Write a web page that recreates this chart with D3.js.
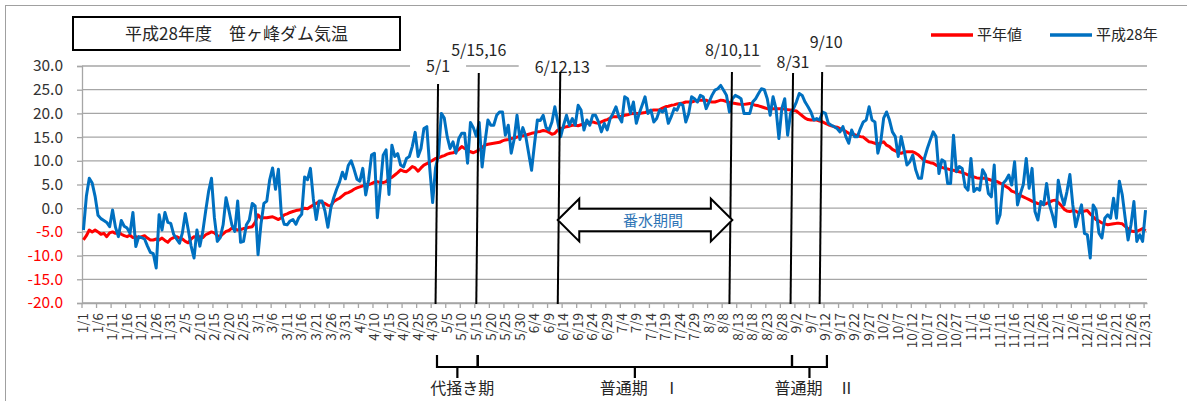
<!DOCTYPE html>
<html>
<head>
<meta charset="utf-8">
<script src="https://cdn.jsdelivr.net/npm/d3@7"></script>
<style>
body { margin: 0; background: #fff; }
svg { display: block; font-family: "Noto Sans CJK JP", "Noto Sans", sans-serif; }
</style>
</head>
<body>
<svg width="1187" height="401"></svg>
<script>
// 2016 is a leap year: 366 daily categories
var monthDays = [31, 29, 31, 30, 31, 30, 31, 31, 30, 31, 30, 31];

// 平年値 (normal), daily
var normalTemp = [
  -6.7, -5.8, -4.6, -5.0, -4.6, -5.0, -5.5, -5.3, -6.0, -5.2,
  -5.0, -5.3, -5.0, -5.5, -5.8, -6.0, -5.7, -6.2, -6.0, -6.2,
  -6.0, -5.8, -6.3, -6.7, -6.7, -6.5, -6.7, -6.3, -6.8, -7.2,
  -6.5, -6.2, -6.0, -6.3, -6.5, -7.0, -7.3, -6.5, -6.0, -6.2,
  -6.0, -6.2, -5.6, -5.3, -5.0, -5.2, -5.8, -6.0, -5.4, -4.9,
  -4.7, -4.2, -4.4, -4.6, -4.5, -4.3, -4.2, -4.0, -3.9, -3.0,
  -1.4, -2.1, -2.0, -2.0, -1.9, -1.8, -2.1, -2.4, -2.0, -1.4,
  -1.2, -0.9, -0.7, -0.5, -0.4, -0.2, 0.0, -0.1, 0.3, 0.7,
  1.0, 1.4, 1.2, 1.0, 0.6, 0.5, 1.4, 1.8, 2.1, 2.6,
  3.1, 3.3, 3.6, 4.0, 4.3, 4.5, 4.7, 5.0, 5.0, 5.2,
  5.5, 5.6, 5.4, 5.4, 5.6, 6.3, 6.5, 7.0, 7.5, 8.1,
  7.8, 7.7, 8.2, 8.8, 8.5, 7.8, 8.5, 9.1, 9.4, 9.8,
  10.1, 10.5, 10.6, 10.9, 11.1, 11.4, 11.6, 11.7, 11.9, 12.4,
  13.0, 12.6, 12.3, 11.9, 11.7, 12.0, 12.3, 12.8, 13.3, 13.5,
  13.6, 13.7, 13.8, 13.9, 14.2, 14.4, 14.5, 14.7, 14.8, 15.0,
  15.1, 15.3, 15.4, 15.6, 15.8, 15.9, 16.1, 16.2, 16.4, 16.3,
  16.0, 15.6, 15.8, 16.5, 16.8, 17.0, 17.2, 17.3, 17.5, 17.5,
  17.4, 17.6, 17.8, 17.9, 18.1, 18.2, 18.0, 17.9, 18.2, 18.5,
  18.7, 19.0, 19.3, 19.3, 19.3, 19.4, 19.6, 19.7, 19.9, 20.0,
  20.0, 20.0, 20.1, 20.2, 20.4, 20.6, 20.7, 20.7, 20.8, 21.1,
  21.4, 21.5, 21.7, 21.8, 22.0, 22.1, 22.2, 22.4, 22.4, 22.4,
  22.6, 22.7, 22.8, 22.8, 22.8, 22.5, 22.4, 22.4, 22.6, 22.8,
  22.7, 22.5, 22.3, 22.2, 22.1, 22.0, 21.9, 21.9, 22.0, 22.1,
  21.9, 21.7, 21.6, 21.4, 21.2, 21.0, 21.0, 21.0, 21.0, 21.0,
  21.0, 20.9, 20.8, 20.7, 20.6, 20.5, 20.0, 19.5, 19.0, 18.7,
  18.6, 18.6, 18.6, 18.4, 18.2, 17.9, 17.6, 17.4, 17.2, 17.1,
  16.8, 16.5, 16.2, 15.8, 15.6, 15.5, 15.3, 15.1, 15.0, 14.5,
  14.0, 13.9, 13.7, 13.5, 13.8, 14.0, 13.3, 13.0, 12.4, 12.1,
  11.7, 11.6, 11.8, 11.9, 11.9, 11.9, 11.6, 11.2, 10.6, 10.0,
  9.8, 9.6, 9.5, 9.1, 8.8, 8.6, 8.4, 8.3, 8.1, 8.0,
  7.8, 7.7, 7.5, 7.3, 7.0, 6.7, 6.6, 6.4, 6.3, 6.3,
  6.3, 6.1, 5.9, 5.8, 5.6, 5.3, 5.0, 4.6, 4.2, 3.6,
  3.4, 3.0, 2.7, 2.4, 2.1, 1.8, 1.5, 1.2, 1.0, 0.9,
  0.8, 1.0, 1.3, 1.6, 1.7, 1.2, 0.6, -0.2, -0.6, -0.7,
  -0.5, -0.6, -1.0, -0.8, -0.6, -0.5, -1.2, -1.8, -2.4, -2.7,
  -3.1, -3.3, -3.5, -3.4, -3.3, -3.2, -3.2, -3.3, -3.8, -4.3,
  -4.8, -4.9, -4.9, -4.6, -4.3, -4.8
];

// 平成28年 (2016), daily
var temp2016 = [
  -4.6, 2.5, 6.3, 5.3, 2.5, -1.5, -2.2, -2.6, -3.0, -3.9,
  -0.4, -4.0, -6.0, -2.6, -3.8, -4.2, -5.3, -0.9, -8.1, -6.0,
  -6.2, -6.5, -8.0, -9.3, -9.6, -12.6, -1.4, -4.6, -0.9, -3.0,
  -3.2, -5.5, -6.5, -7.4, -5.2, -1.1, -4.5, -8.0, -10.5, -4.6,
  -8.0, -5.0, -0.6, 3.5, 6.3, -2.0, -7.0, -6.2, -3.5, 2.2,
  -0.5, -3.5, -4.9, 1.5, -7.2, -7.0, -3.5, -2.5, 1.0, 0.5,
  -9.8, -3.4, 1.0, 1.5, 6.0, 8.5, 4.0, 8.2, -1.3, -3.4,
  -3.5, -2.7, -2.4, -3.4, -2.0, -1.3, 6.6, 6.0, 8.4, 2.0,
  -2.4, 1.5, 1.5, -0.6, -4.0, 0.0, 2.2, 4.0, 5.5, 7.6,
  6.2, 9.0, 10.0, 8.2, 6.1, 5.7, 8.4, 2.8, 6.0, 11.2,
  11.6, -2.0, 4.3, 11.2, 12.3, 2.9, 13.3, 10.9, 11.5, 9.1,
  8.7, 10.5, 10.9, 13.0, 16.0, 10.9, 12.6, 16.8, 17.2, 8.5,
  1.2, 8.5, 11.2, 20.0, 19.0, 15.1, 12.6, 14.0, 11.6, 14.7,
  15.8, 15.8, 9.5, 18.1, 17.0, 15.2, 18.1, 8.7, 14.0, 18.6,
  17.5, 17.5, 19.6, 20.3, 20.3, 15.4, 17.5, 11.6, 14.5, 19.6,
  14.5, 17.0, 15.2, 11.6, 8.0, 13.5, 18.6, 18.5, 19.6, 17.0,
  16.5, 18.2, 21.4, 18.2, 15.1, 17.5, 19.6, 17.5, 18.9, 17.5,
  21.7, 20.7, 16.5, 18.6, 17.5, 19.6, 19.6, 18.2, 16.1, 17.9,
  16.5, 18.9, 20.0, 21.4, 19.3, 18.2, 23.5, 23.1, 20.0, 22.4,
  17.9, 20.0, 21.7, 23.5, 20.0, 20.7, 18.2, 18.9, 20.7, 20.3,
  21.0, 17.9, 19.3, 21.0, 20.7, 22.1, 21.7, 18.2, 20.0, 23.5,
  23.1, 22.4, 23.8, 23.5, 21.0, 22.4, 23.8, 24.9, 25.2, 25.9,
  24.9, 23.8, 20.3, 23.1, 23.8, 23.5, 23.1, 20.0, 20.0, 20.0,
  22.4, 23.1, 24.2, 25.2, 25.0, 23.1, 19.6, 23.5, 21.0, 14.7,
  21.0, 23.1, 15.4, 20.0, 21.0, 22.4, 24.2, 23.8, 22.4, 21.4,
  20.3, 18.6, 18.9, 18.6, 20.3, 20.0, 17.9, 17.5, 17.2, 16.8,
  16.1, 17.2, 15.1, 13.7, 16.5, 15.1, 15.1, 16.8, 18.2, 18.6,
  21.4, 18.6, 18.2, 11.6, 14.0, 19.0, 20.3, 18.6, 16.1, 15.1,
  10.9, 15.1, 12.3, 9.1, 9.8, 11.2, 8.1, 6.3, 6.3, 10.5,
  12.6, 14.4, 16.1, 15.1, 7.3, 10.2, 9.8, 5.2, 5.2, 15.4,
  7.7, 8.8, 8.4, 4.5, 3.8, 10.5, 3.5, 4.2, 3.8, 8.1,
  7.0, 3.1, 2.4, 9.1, -3.2, -1.4, 5.2, 5.9, 7.0, 4.9,
  9.8, 0.7, 3.1, 5.0, 10.5, 4.2, 8.4, -0.7, -2.5, 1.4,
  0.7, 5.2, 0.7, -1.4, -3.9, 5.9, 2.8, 0.7, 3.5, 7.1,
  0.7, -3.9, -1.4, 0.7, -5.3, -5.6, -10.5, 0.7, -0.4, -5.3,
  -6.3, -2.1, -1.4, -2.1, 2.1, -2.1, 5.7, 2.8, -2.1, -6.7,
  -3.5, 1.4, -7.0, -5.6, -7.0, -0.4
];

var yTicks = [-20, -15, -10, -5, 0, 5, 10, 15, 20, 25, 30];
var seriesNames = ["平年値", "平成28年"];
var seriesColors = ["#ff0000", "#0070c0"];

// marked dates (vertical lines) and their labels
var eventDays = ["5/1", "5/15", "6/12", "8/10", "8/31", "9/10"];
var eventLabels = ["5/1", "5/15,16", "6/12,13", "8/10,11", "8/31", "9/10"];
var arrowRange = ["6/12", "8/11"];
var arrowLabel = "番水期間";
var periodLabels = ["代掻き期", "普通期　Ⅰ", "普通期　Ⅱ"];
var periodFrom = ["5/1", "5/15", "8/31"];
var periodTo = ["5/15", "8/31", "9/12"];

// category labels m/d
var days = [];
monthDays.forEach(function (n, m) {
    for (var d = 1; d <= n; d++) days.push((m + 1) + "/" + d);
});

var svg = d3.select("svg");

// outer chart frame
svg.append("rect")
    .attr("x", 5.5).attr("y", 5.5)
    .attr("width", 1200).attr("height", 420)
    .attr("fill", "#fff")
    .attr("stroke", "#a0a0a0").attr("stroke-width", 1);

var x = d3.scaleBand().domain(days).range([82, 1147]).padding(0);
var bw = x.bandwidth();
var cx = function (d) { return x(d) + bw / 2; };
var y = d3.scaleLinear().domain([-20, 30]).range([303, 66]);

// gridlines
svg.append("g").selectAll("line")
    .data(yTicks)
    .enter().append("line")
    .attr("x1", 82).attr("x2", 1147)
    .attr("y1", d => y(d)).attr("y2", d => y(d))
    .attr("stroke", "#a6a6a6").attr("stroke-width", 1.3);

// y axis
var yAxis = svg.append("g")
    .attr("transform", "translate(82,0)")
    .call(d3.axisLeft(y).tickValues(yTicks).tickSize(5).tickPadding(14)
        .tickFormat(d => d.toFixed(1)));
yAxis.select(".domain").attr("stroke", "#a6a6a6").attr("stroke-width", 1.3);
yAxis.selectAll(".tick line").attr("stroke", "#a6a6a6").attr("stroke-width", 1.3);
yAxis.selectAll(".tick text")
    .attr("font-size", 15.5)
    .attr("font-family", "'Noto Sans CJK JP', sans-serif")
    .attr("fill", d => d < 0 ? "#ff0000" : "#333");

// x axis
var xAxis = svg.append("g")
    .attr("transform", "translate(0,303)")
    .call(d3.axisBottom(x)
        .tickValues(days.filter((d, i) => i % 5 === 0))
        .tickSize(5).tickSizeOuter(0));
xAxis.select(".domain").attr("stroke", "#a6a6a6").attr("stroke-width", 1.3);
xAxis.selectAll(".tick line")
    .attr("x1", -bw / 2).attr("x2", -bw / 2)
    .attr("stroke", "#a6a6a6").attr("stroke-width", 1.3);
xAxis.selectAll(".tick text")
    .attr("transform", "rotate(-90)")
    .attr("text-anchor", "end")
    .attr("x", -10).attr("y", 0).attr("dy", "0.35em")
    .attr("font-size", 13.5)
    .attr("font-family", "'Noto Sans CJK JP', sans-serif")
    .attr("fill", "#333");

// data lines
var line = d3.line()
    .x((d, i) => cx(days[i]))
    .y(d => y(d));

[normalTemp, temp2016].forEach(function (vals, k) {
    svg.append("path")
        .datum(vals)
        .attr("d", line)
        .attr("fill", "none")
        .attr("stroke", seriesColors[k])
        .attr("stroke-width", 3)
        .attr("stroke-linejoin", "round");
});

// marked dates: label boxes, labels, vertical lines
var lineTop = [84, 73, 72, 72, 73, 72];
var labelY = [66, 50, 67, 50, 62, 42.5];
var labelDx = [2.5, 2.5, 4.5, 3, 2.5, 6.5];
var lean = 2.5;

var boxLayer = svg.append("g");
var evLabels = svg.append("g").selectAll("text")
    .data(eventDays)
    .enter().append("text")
    .attr("x", (d, i) => cx(d) + labelDx[i])
    .attr("y", (d, i) => labelY[i])
    .attr("dy", "0.35em")
    .attr("text-anchor", "middle")
    .attr("font-size", 16)
    .attr("fill", "#262626")
    .text((d, i) => eventLabels[i]);

evLabels.each(function () {
    var b = this.getBBox();
    boxLayer.append("rect")
        .attr("x", b.x - 16).attr("y", b.y + 2)
        .attr("width", b.width + 32).attr("height", b.height - 4)
        .attr("fill", "#fff");
});

svg.append("g").selectAll("line")
    .data(eventDays)
    .enter().append("line")
    .attr("x1", d => cx(d)).attr("y1", 304)
    .attr("x2", d => cx(d) + lean).attr("y2", (d, i) => lineTop[i])
    .attr("stroke", "#000").attr("stroke-width", 2);

// double-headed arrow
var ax1 = cx(arrowRange[0]), ax2 = cx(arrowRange[1]);
var ay = y(-2.5), head = 21.5, hh = 21.3, sh = 11.3;
var arrowPts = [
    [ax1, ay], [ax1 + head, ay - hh], [ax1 + head, ay - sh],
    [ax2 - head, ay - sh], [ax2 - head, ay - hh], [ax2, ay],
    [ax2 - head, ay + hh], [ax2 - head, ay + sh], [ax1 + head, ay + sh],
    [ax1 + head, ay + hh]
];
svg.append("polygon")
    .attr("points", arrowPts.map(p => p.join(",")).join(" "))
    .attr("fill", "#fff")
    .attr("stroke", "#000").attr("stroke-width", 2)
    .attr("stroke-linejoin", "miter");
svg.append("text")
    .attr("x", (ax1 + ax2) / 2 + 8).attr("y", ay + 1)
    .attr("dy", "0.35em")
    .attr("text-anchor", "middle")
    .attr("font-size", 15)
    .attr("fill", "#2e75b6")
    .text(arrowLabel);

// period braces under the axis
var braceTop = 355, braceMid = 367, braceTip = 378;
periodLabels.forEach(function (lab, k) {
    var x1 = x(periodFrom[k]) + bw, x2 = x(periodTo[k]) + bw, m = (x1 + x2) / 2;
    svg.append("path")
        .attr("d", "M" + x1 + "," + braceTop + "V" + braceMid + "H" + x2 + "V" + braceTop +
            "M" + m + "," + braceMid + "V" + braceTip)
        .attr("fill", "none")
        .attr("stroke", "#000").attr("stroke-width", 2.2);
    svg.append("text")
        .attr("x", m + 5).attr("y", 388)
        .attr("dy", "0.35em")
        .attr("text-anchor", "middle")
        .attr("font-size", 16)
        .attr("fill", "#262626")
        .text(lab);
});

// title box
svg.append("rect")
    .attr("x", 73).attr("y", 17)
    .attr("width", 327).attr("height", 33)
    .attr("fill", "#fff")
    .attr("stroke", "#000").attr("stroke-width", 2);
svg.append("text")
    .attr("x", 236.5).attr("y", 34)
    .attr("dy", "0.35em")
    .attr("text-anchor", "middle")
    .attr("font-size", 17)
    .attr("fill", "#262626")
    .text("平成28年度　笹ヶ峰ダム気温");

// legend
var legend = svg.append("g").selectAll("g")
    .data(seriesNames)
    .enter().append("g")
    .attr("transform", (d, i) => "translate(" + (931 + i * 119) + ",35)");
legend.append("line")
    .attr("x1", 0).attr("x2", 42)
    .attr("stroke", (d, i) => seriesColors[i])
    .attr("stroke-width", 3.5);
legend.append("text")
    .attr("x", 46).attr("dy", "0.35em")
    .attr("font-size", 15)
    .attr("fill", "#262626")
    .text(d => d);
</script>
</body>
</html>
